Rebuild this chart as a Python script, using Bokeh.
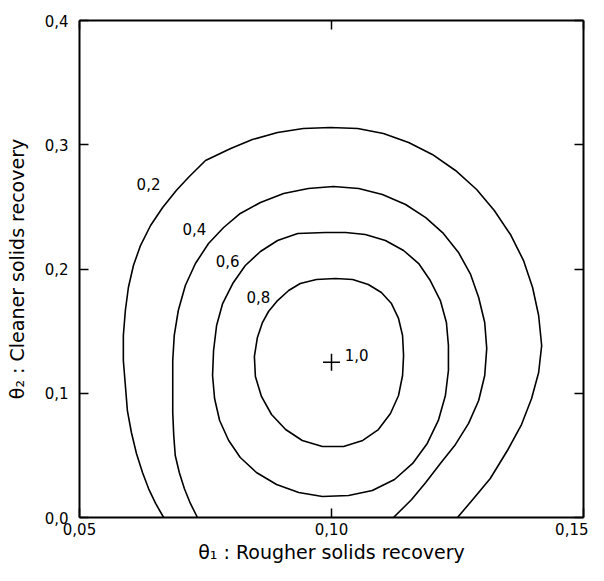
from bokeh.plotting import figure
from bokeh.models import Range1d, LinearAxis, FixedTicker, CustomJSTickFormatter, ColumnDataSource
from bokeh.core.properties import value
from bokeh.embed import file_html
from bokeh.resources import INLINE

# ---- data ----
x_ticks = [0.05, 0.10, 0.15]
y_ticks = [0.0, 0.1, 0.2, 0.3, 0.4]

# contour 0.2 (open at the bottom)
c02_x = [0.0667, 0.0651, 0.0637, 0.0625, 0.0613, 0.0603, 0.0595, 0.0591, 0.0587, 0.0587,
         0.0591, 0.0597, 0.0607, 0.0621, 0.0641, 0.0665, 0.0692, 0.0716, 0.0750, 0.0800,
         0.0843, 0.0893, 0.0944, 0.0998, 0.1052, 0.1103, 0.1153, 0.1200, 0.1246, 0.1288,
         0.1323, 0.1355, 0.1381, 0.1399, 0.1411, 0.1417, 0.1411, 0.1397, 0.1377, 0.1349,
         0.1315, 0.1282, 0.1250]
c02_y = [0.0, 0.0113, 0.0233, 0.0362, 0.0515, 0.0684, 0.0861, 0.1062, 0.1264, 0.1465,
         0.1666, 0.1851, 0.2028, 0.2189, 0.2350, 0.2495, 0.2632, 0.2736, 0.2873, 0.2970,
         0.3042, 0.3099, 0.3131, 0.3139, 0.3131, 0.3091, 0.3018, 0.2922, 0.2793, 0.2640,
         0.2471, 0.2278, 0.2068, 0.1851, 0.1626, 0.1384, 0.1167, 0.0958, 0.0748, 0.0539,
         0.0314, 0.0153, 0.0]

# contour 0.4 (open at the bottom)
c04_x = [0.0734, 0.0720, 0.0708, 0.0698, 0.0690, 0.0687, 0.0685, 0.0685, 0.0685, 0.0688,
         0.0696, 0.0710, 0.0730, 0.0756, 0.0786, 0.0819, 0.0859, 0.0905, 0.0954, 0.1004,
         0.1054, 0.1101, 0.1147, 0.1187, 0.1222, 0.1252, 0.1276, 0.1292, 0.1304, 0.1308,
         0.1304, 0.1292, 0.1272, 0.1246, 0.1216, 0.1187, 0.1159, 0.1137, 0.1123]
c04_y = [0.0, 0.0113, 0.0233, 0.0362, 0.0499, 0.0660, 0.0845, 0.1062, 0.1264, 0.1465,
         0.1666, 0.1867, 0.2044, 0.2205, 0.2334, 0.2447, 0.2535, 0.2608, 0.2648, 0.2664,
         0.2648, 0.2600, 0.2519, 0.2414, 0.2286, 0.2133, 0.1956, 0.1771, 0.1569, 0.1360,
         0.1143, 0.0942, 0.0757, 0.0588, 0.0435, 0.0282, 0.0145, 0.0056, 0.0]

# contour 0.6 (closed)
c06_x = [0.0988, 0.1028, 0.1067, 0.1107, 0.1143, 0.1173, 0.1196, 0.1216, 0.1228, 0.1232,
         0.1232, 0.1226, 0.1212, 0.1190, 0.1161, 0.1125, 0.1081, 0.1034, 0.0982, 0.0935,
         0.0891, 0.0851, 0.0819, 0.0796, 0.0778, 0.0768, 0.0764, 0.0766, 0.0772, 0.0784,
         0.0804, 0.0829, 0.0859, 0.0893, 0.0933, 0.0988]
c06_y = [0.2294, 0.2294, 0.2278, 0.2229, 0.2149, 0.2044, 0.1907, 0.1746, 0.1569, 0.1384,
         0.1183, 0.0982, 0.0781, 0.0596, 0.0435, 0.0306, 0.0217, 0.0177, 0.0169, 0.0201,
         0.0266, 0.0362, 0.0483, 0.0620, 0.0781, 0.0958, 0.1143, 0.1344, 0.1545, 0.1722,
         0.1883, 0.2028, 0.2141, 0.2229, 0.2286, 0.2294]

# contour 0.8 (closed)
c08_x = [0.1008, 0.1042, 0.1073, 0.1099, 0.1119, 0.1133, 0.1141, 0.1143, 0.1141, 0.1133,
         0.1117, 0.1093, 0.1062, 0.1024, 0.0982, 0.0942, 0.0909, 0.0881, 0.0861, 0.0849,
         0.0847, 0.0853, 0.0863, 0.0875, 0.0893, 0.0915, 0.0938, 0.0970, 0.1008]
c08_y = [0.1924, 0.1915, 0.1875, 0.1811, 0.1722, 0.1602, 0.1465, 0.1304, 0.1143, 0.0982,
         0.0837, 0.0708, 0.0620, 0.0571, 0.0571, 0.0620, 0.0708, 0.0829, 0.0974, 0.1135,
         0.1296, 0.1449, 0.1569, 0.1658, 0.1746, 0.1827, 0.1883, 0.1915, 0.1924]

# contour labels
label_x = [0.0637, 0.0728, 0.0794, 0.0855, 0.1050]
label_y = [0.2688, 0.2318, 0.2068, 0.1771, 0.1304]
label_text = ["0,2", "0,4", "0,6", "0,8", "1,0"]

# optimum
opt_x = [0.10]
opt_y = [0.125]

FONT = "DejaVu Sans"

p = figure(width=588, height=565,
           x_range=Range1d(0.05, 0.15), y_range=Range1d(0.0, 0.4),
           output_backend="svg", toolbar_location=None)
p.min_border_left = 79
p.min_border_right = 5
p.min_border_top = 20
p.min_border_bottom = 48
p.outline_line_color = None
p.xgrid.visible = False
p.ygrid.visible = False
p.background_fill_color = "white"
p.border_fill_color = "white"

for cx, cy in [(c02_x, c02_y), (c04_x, c04_y), (c06_x, c06_y), (c08_x, c08_y)]:
    p.line(cx, cy, line_color="black", line_width=1.6, line_join="round")

p.scatter(opt_x, opt_y, marker="cross", size=17, line_color="black", line_width=1.5)

src = ColumnDataSource(dict(x=label_x, y=label_y, t=label_text))
p.text(x="x", y="y", text="t", source=src, text_align="center", text_baseline="middle",
       text_font=value(FONT), text_font_size="15px", text_color="black")

def style(ax):
    ax.axis_line_color = "black"
    ax.axis_line_width = 2
    ax.major_tick_in = 9
    ax.major_tick_out = 0
    ax.minor_tick_in = 0
    ax.minor_tick_out = 0
    ax.major_tick_line_color = "black"
    ax.major_tick_line_width = 1.5
    ax.minor_tick_line_color = None
    ax.major_label_text_font = FONT
    ax.major_label_text_font_size = "15px"
    ax.major_label_text_color = "black"
    ax.axis_label_text_font = FONT
    ax.axis_label_text_font_size = "19px"
    ax.axis_label_text_font_style = "normal"
    ax.axis_label_text_color = "black"

xa = p.xaxis[0]
style(xa)
xa.ticker = FixedTicker(ticks=x_ticks)
xa.formatter = CustomJSTickFormatter(code="return tick.toFixed(2).replace('.', ',')")
xa.major_label_standoff = 5
xa.axis_label = "θ₁ : Rougher solids recovery"
xa.axis_label_standoff = 3

ya = p.yaxis[0]
style(ya)
ya.ticker = FixedTicker(ticks=y_ticks)
ya.formatter = CustomJSTickFormatter(code="return tick.toFixed(1).replace('.', ',')")
ya.major_label_standoff = 11
ya.axis_label = "θ₂ : Cleaner solids recovery"
ya.axis_label_standoff = 14

top = LinearAxis(ticker=FixedTicker(ticks=x_ticks),
                 formatter=CustomJSTickFormatter(code="return ''"))
style(top)
top.major_label_standoff = 0
p.add_layout(top, "above")

right = LinearAxis(ticker=FixedTicker(ticks=y_ticks),
                   formatter=CustomJSTickFormatter(code="return ''"))
style(right)
right.major_label_standoff = 0
p.add_layout(right, "right")

open("out.html", "w").write(file_html(p, INLINE))
